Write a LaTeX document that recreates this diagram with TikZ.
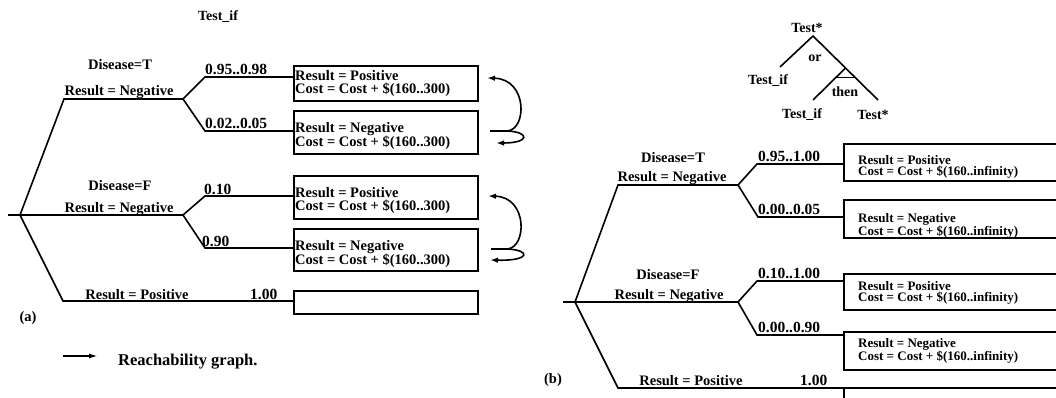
\documentclass[tikz,border=0pt]{standalone}
\usepackage{fontspec}
\setmainfont{Liberation Serif}
\usetikzlibrary{arrows.meta,calc}

\begin{document}
\begin{tikzpicture}[x=1pt,y=-1pt,
    edge/.style={line width=1.6pt},
    box/.style={draw, line width=1.6pt, inner sep=0pt, anchor=north west},
    lbl/.style={font=\fontsize{14.5}{15}\selectfont\bfseries, inner sep=0pt, anchor=base},
    num/.style={lbl, font=\fontsize{15.5}{16}\selectfont\bfseries, anchor=base west},
    atxt/.style={font=\fontsize{14.5}{13}\selectfont\bfseries, align=left, inner sep=0pt, anchor=west},
    btxt/.style={font=\fontsize{13}{11.5}\selectfont\bfseries, align=left, inner sep=0pt, anchor=west},
    sm/.style={font=\fontsize{14}{14}\selectfont\bfseries, inner sep=0pt},
    swp/.style={line width=1.6pt, -{Latex[length=8pt,width=5.5pt]}}]
  \useasboundingbox (0,0) rectangle (1056,398);
  \clip (0,0) rectangle (1056,398);

  % (a) tree
  \node[sm] (ttl) at (218,17) {Test\_if};
  \coordinate (a0) at (20,215);
  \coordinate (aL) at (8,215);
  \coordinate (aTc) at (64,99);
  \coordinate (aT) at (183,99);
  \coordinate (aF) at (183,215);
  \coordinate (aPc) at (63,301);
  \coordinate (aT1) at (205,77);
  \coordinate (aT2) at (205,131);
  \coordinate (aF1) at (205,196);
  \coordinate (aF2) at (205,248);

  \node[box, minimum width=184pt, minimum height=35pt] (a1) at (293,65) {};
  \node[box, minimum width=184pt, minimum height=43pt] (a2) at (293,110) {};
  \node[box, minimum width=184pt, minimum height=43pt] (a3) at (293,175) {};
  \node[box, minimum width=184pt, minimum height=42pt] (a4) at (293,228) {};
  \node[box, minimum width=184pt, minimum height=23pt] (a5) at (293,290) {};
  \node[atxt] (a1t) at (295,84) {Result = Positive\\Cost = Cost + \$(160..300)};
  \node[atxt] (a2t) at (295,136) {Result = Negative\\Cost = Cost + \$(160..300)};
  \node[atxt] (a3t) at (295,201) {Result = Positive\\Cost = Cost + \$(160..300)};
  \node[atxt] (a4t) at (295,254) {Result = Negative\\Cost = Cost + \$(160..300)};

  \draw[edge] (aL) -- (aF) (a0) -- (aTc) -- (aT) (a0) -- (aPc) -- (a5.west |- aPc);
  \draw[edge] (a1.west |- aT1) -- (aT1) -- (aT) -- (aT2) -- (a2.west |- aT2);
  \draw[edge] (a3.west |- aF1) -- (aF1) -- (aF) -- (aF2) -- (a4.west |- aF2);

  \node[lbl] (dT) at (120,70) {Disease=T};
  \node[lbl] (rT) at (119,96) {Result = Negative};
  \node[num] (pT1) at (205,75) {0.95..0.98};
  \node[num] (pT2) at (205,129) {0.02..0.05};
  \node[lbl] (dF) at (120,190) {Disease=F};
  \node[lbl] (rF) at (119,212) {Result = Negative};
  \node[num] (pF1) at (204,194) {0.10};
  \node[num] (pF2) at (202,246) {0.90};
  \node[lbl] (rP) at (137,299) {Result = Positive};
  \node[num] (pP) at (250,299) {1.00};
  \node[lbl] (tagA) at (28,321) {(a)};

  % swaps between sibling outcomes
  \coordinate (s1) at (490,131);
  \coordinate (s1m) at (507,131);
  \coordinate (s1u) at (487,78);
  \coordinate (s1d) at (496,143);
  \draw[edge] (s1) -- (s1m);
  \draw[swp] (s1m) .. controls (527,130) and (528,79) .. (s1u);
  \draw[swp] (s1m) .. controls (530,132) and (530,143) .. (s1d);
  \coordinate (s2) at (491,249);
  \coordinate (s2m) at (507,249);
  \coordinate (s2u) at (488,196);
  \coordinate (s2d) at (490,260);
  \draw[edge] (s2) -- (s2m);
  \draw[swp] (s2m) .. controls (527,248) and (528,197) .. (s2u);
  \draw[swp] (s2m) .. controls (531,250) and (531,261) .. (s2d);

  \coordinate (k0) at (63,356);
  \coordinate (k1) at (98,356);
  \node[font=\fontsize{16.5}{18}\selectfont\bfseries, inner sep=0pt, anchor=base west] (cap) at (118,365) {Reachability graph.};
  \draw[line width=1.6pt, -{Latex[length=9pt,width=5pt]}] (k0) -- (k1);

  % (b) grammar tree
  \coordinate (ap) at (813,36);
  \coordinate (tl) at (780,67);
  \coordinate (tr) at (878,100);
  \coordinate (jc) at ($(ap)!0.5!(tr)$);
  \coordinate (tb) at (813,100);
  \draw[edge] (tl) -- (ap) -- (tr);
  \draw[edge] (jc) -- (tb);
  \draw[edge] ($(jc)!0.3!(tb)$) -- ($(jc)!0.3!(tr)$);
  \node[sm] (ts) at (807,28) {Test*};
  \node[sm] (gor) at (815,58) {or};
  \node[sm] (gif) at (768,81) {Test\_if};
  \node[sm] (gthen) at (845,92) {then};
  \node[sm] (gif2) at (802,115) {Test\_if};
  \node[sm] (gts) at (873,115) {Test*};

  % (b) tree
  \coordinate (b0) at (575,302);
  \coordinate (bL) at (563,302);
  \coordinate (bTc) at (618,185);
  \coordinate (bT) at (738,185);
  \coordinate (bF) at (738,302);
  \coordinate (bPc) at (618,388);
  \coordinate (bT1) at (757,164);
  \coordinate (bT2) at (758,217);
  \coordinate (bF1) at (757,281);
  \coordinate (bF2) at (757,335);

  \node[box, minimum width=230pt, minimum height=37pt] (b1) at (843,143) {};
  \node[box, minimum width=230pt, minimum height=38pt] (b2) at (843,199) {};
  \node[box, minimum width=230pt, minimum height=36pt] (b3) at (843,273) {};
  \node[box, minimum width=230pt, minimum height=38pt] (b4) at (843,331) {};
  \node[box, minimum width=230pt, minimum height=30pt] (b5) at (843,387) {};
  \node[btxt] (b1t) at (858,167) {Result = Positive\\Cost = Cost + \$(160..infinity)};
  \node[btxt] (b2t) at (858,226) {Result = Negative\\Cost = Cost + \$(160..infinity)};
  \node[btxt] (b3t) at (858,293) {Result = Positive\\Cost = Cost + \$(160..infinity)};
  \node[btxt] (b4t) at (858,351) {Result = Negative\\Cost = Cost + \$(160..infinity)};

  \draw[edge] (bL) -- (bF) (b0) -- (bTc) -- (bT) (b0) -- (bPc) -- (b5.west |- bPc);
  \draw[edge] (b1.west |- bT1) -- (bT1) -- (bT) -- (bT2) -- (b2.west |- bT2);
  \draw[edge] (b3.west |- bF1) -- (bF1) -- (bF) -- (bF2) -- (b4.west |- bF2);

  \node[lbl] (dT2) at (673,163) {Disease=T};
  \node[lbl] (rT2) at (672,182) {Result = Negative};
  \node[num] (qT1) at (758,161) {0.95..1.00};
  \node[num] (qT2) at (758,214) {0.00..0.05};
  \node[lbl] (dF2) at (668,279) {Disease=F};
  \node[lbl] (rF2) at (669,299) {Result = Negative};
  \node[num] (qF1) at (758,278) {0.10..1.00};
  \node[num] (qF2) at (758,332) {0.00..0.90};
  \node[lbl] (rP2) at (691,385) {Result = Positive};
  \node[num] (qP) at (800,385) {1.00};
  \node[lbl] (tagB) at (553,383) {(b)};
\end{tikzpicture}
\end{document}
